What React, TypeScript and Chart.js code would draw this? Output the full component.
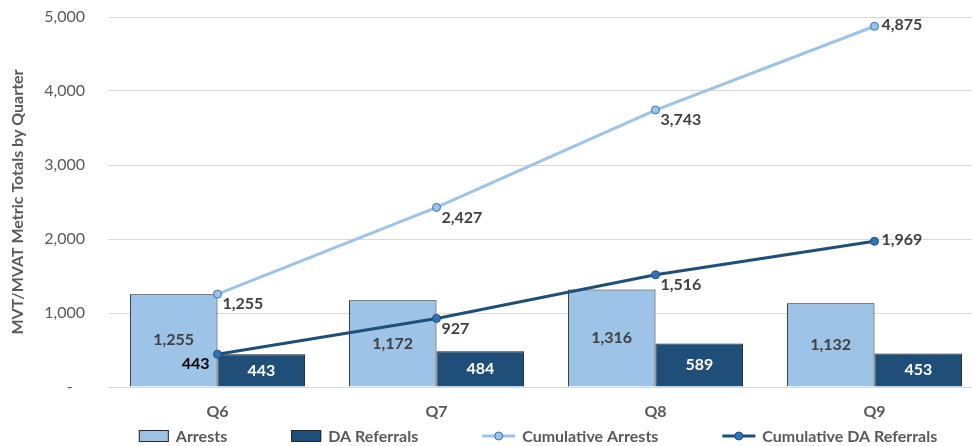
import React, { useEffect, useRef } from "react";
import { Chart, registerables } from "chart.js";

Chart.register(...registerables);

const categories = ["Q6", "Q7", "Q8", "Q9"];
const arrests = [1255, 1172, 1316, 1132];
const daReferrals = [443, 484, 589, 453];
const cumulativeArrests = [1255, 2427, 3743, 4875];
const cumulativeDaReferrals = [443, 927, 1516, 1969];
const yTicks = [0, 1000, 2000, 3000, 4000, 5000];

const FONT = "Lato, 'Open Sans', sans-serif";
const LIGHT = "#9DC3E6";
const DARK = "#1F4E79";
const MID = "#2E75B6";
const GRAY = "#595959";
const LABEL = "#404040";
const CANVAS_W = 989;
const CANVAS_H = 446;

const fmt = (v: number) => v.toLocaleString("en-US");

const labelPlugin = {
  id: "valueLabels",
  afterDatasetsDraw(chart: any) {
    const ctx = chart.ctx;
    ctx.save();
    ctx.font = `bold 16px ${FONT}`;
    chart.data.datasets.forEach((ds: any, di: number) => {
      const meta = chart.getDatasetMeta(di);
      const n = ds.data.length;
      meta.data.forEach((el: any, i: number) => {
        const txt = fmt(ds.data[i]);
        ctx.textBaseline = "middle";
        if (ds.type === "bar") {
          ctx.fillStyle = ds.labelColor;
          ctx.textAlign = "center";
          ctx.fillText(txt, el.x, (el.y + el.base) / 2);
        } else if (ds.leftFirst && i === 0) {
          ctx.fillStyle = "#000";
          ctx.textAlign = "right";
          ctx.fillText(txt, el.x - 8, el.y + 10);
        } else if (i === n - 1) {
          ctx.fillStyle = LABEL;
          ctx.textAlign = "left";
          ctx.fillText(txt, el.x + 7, el.y - 1);
        } else {
          ctx.fillStyle = LABEL;
          ctx.textAlign = "left";
          ctx.fillText(txt, el.x + 5, el.y + 10);
        }
      });
    });
    ctx.restore();
  },
};

const legendPlugin = {
  id: "customLegend",
  afterDraw(chart: any) {
    const ctx = chart.ctx;
    const area = chart.chartArea;
    ctx.save();
    ctx.font = `bold 16px ${FONT}`;
    const items = chart.data.datasets.map((ds: any) => ({
      ds,
      w: ctx.measureText(ds.label).width,
      mw: ds.type === "bar" ? 30 : 33,
    }));
    const gapMark = 7;
    const gapItem = 64;
    let total = 0;
    items.forEach((it: any, k: number) => {
      total += it.mw + gapMark + it.w + (k < items.length - 1 ? gapItem : 0);
    });
    let x = (area.left + area.right) / 2 - 8 - total / 2;
    const y = chart.height - 10;
    items.forEach((it: any) => {
      const ds = it.ds;
      const mw = it.mw;
      if (ds.type === "bar") {
        ctx.fillStyle = ds.backgroundColor;
        ctx.fillRect(x, y - 6, mw, 11);
        ctx.strokeStyle = "#262626";
        ctx.lineWidth = 1;
        ctx.strokeRect(x + 0.5, y - 5.5, mw - 1, 11);
      } else {
        ctx.strokeStyle = ds.borderColor;
        ctx.lineWidth = 3;
        ctx.beginPath();
        ctx.moveTo(x, y);
        ctx.lineTo(x + mw, y);
        ctx.stroke();
        ctx.beginPath();
        ctx.arc(x + mw / 2, y, 4, 0, Math.PI * 2);
        ctx.fillStyle = ds.pointBackgroundColor;
        ctx.fill();
        ctx.lineWidth = 1;
        ctx.strokeStyle = ds.pointBorderColor;
        ctx.stroke();
      }
      x += mw + gapMark;
      ctx.fillStyle = GRAY;
      ctx.textAlign = "left";
      ctx.textBaseline = "middle";
      ctx.fillText(ds.label, x, y + 1);
      x += it.w + gapItem;
    });
    ctx.restore();
  },
};

export default function App() {
  const ref = useRef<HTMLCanvasElement | null>(null);

  useEffect(() => {
    document.documentElement.style.overflow = "hidden";
    document.body.style.margin = "0";
    document.body.style.overflow = "hidden";
    if (!ref.current) return;
    const chart = new Chart(ref.current, {
      type: "bar",
      data: {
        labels: categories,
        datasets: [
          {
            type: "bar",
            label: "Arrests",
            data: arrests,
            backgroundColor: LIGHT,
            borderColor: "#1a1a1a",
            borderWidth: 1,
            categoryPercentage: 0.8,
            barPercentage: 1.0,
            order: 2,
            labelColor: LABEL,
          } as any,
          {
            type: "bar",
            label: "DA Referrals",
            data: daReferrals,
            backgroundColor: DARK,
            borderColor: "#1a1a1a",
            borderWidth: 1,
            categoryPercentage: 0.8,
            barPercentage: 1.0,
            order: 2,
            labelColor: "#FFFFFF",
          } as any,
          {
            type: "line",
            label: "Cumulative Arrests",
            data: cumulativeArrests,
            borderColor: LIGHT,
            borderWidth: 3,
            pointRadius: 4,
            pointBackgroundColor: LIGHT,
            pointBorderColor: MID,
            pointBorderWidth: 1,
            order: 1,
          } as any,
          {
            type: "line",
            label: "Cumulative DA Referrals",
            data: cumulativeDaReferrals,
            borderColor: DARK,
            borderWidth: 3,
            pointRadius: 4,
            pointBackgroundColor: MID,
            pointBorderColor: DARK,
            pointBorderWidth: 1,
            order: 0,
            leftFirst: true,
          } as any,
        ],
      },
      options: {
        animation: false,
        responsive: false,
        layout: { padding: { top: 17, right: 1, bottom: 23, left: 0 } },
        plugins: {
          legend: { display: false },
          tooltip: { enabled: false },
        },
        scales: {
          x: {
            offset: true,
            grid: { display: false, drawTicks: false },
            border: { display: true, color: "#D9D9D9" },
            ticks: {
              color: GRAY,
              font: { family: FONT, size: 16, weight: "bold" },
              padding: 15,
            },
            afterFit: (s: any) => {
              s.height = 36;
              s.paddingLeft = 0;
              s.paddingRight = 0;
            },
          },
          y: {
            min: 0,
            max: 5000,
            afterBuildTicks: (s: any) => {
              s.ticks = yTicks.map((v) => ({ value: v }));
            },
            grid: { color: "#D9D9D9", drawTicks: false },
            border: { display: false },
            ticks: {
              color: GRAY,
              font: { family: FONT, size: 16 },
              padding: 23,
              callback: (v: any) => (Number(v) === 0 ? "-   " : fmt(Number(v))),
            },
            title: {
              display: true,
              text: "MVT/MVAT Metric Totals by Quarter",
              color: GRAY,
              font: { family: FONT, size: 16, weight: "bold" },
              padding: { top: 8, bottom: 0 },
            },
            afterFit: (s: any) => {
              s.width = 108;
              s.paddingTop = 0;
              s.paddingBottom = 0;
            },
          },
        },
      },
      plugins: [labelPlugin, legendPlugin],
    });
    return () => chart.destroy();
  }, []);

  return (
    <div style={{ width: CANVAS_W, height: CANVAS_H, position: "relative" }}>
      <canvas
        ref={ref}
        width={CANVAS_W}
        height={CANVAS_H}
        style={{ width: CANVAS_W, height: CANVAS_H, display: "block" }}
      />
    </div>
  );
}
